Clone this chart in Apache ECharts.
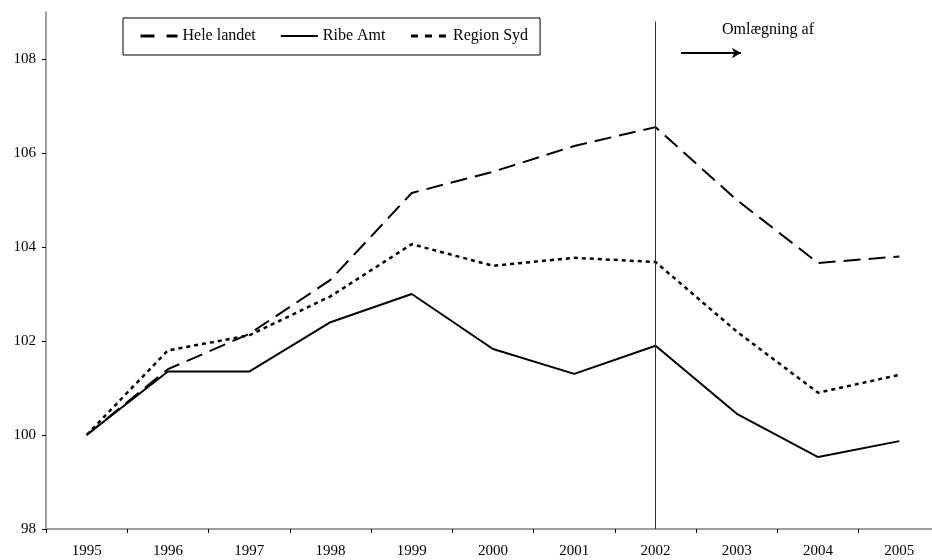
<!DOCTYPE html>
<html>
<head>
<meta charset="utf-8">
<script src="https://cdn.jsdelivr.net/npm/echarts@6/dist/echarts.min.js"></script>
<style>html,body{margin:0;padding:0;background:#fff;overflow:hidden;width:932px;height:560px}#c{width:940px;height:560px}</style>
</head>
<body>
<div id="c"></div>
<script>
const years = ['1995','1996','1997','1998','1999','2000','2001','2002','2003','2004','2005'];
const heleLandet = [100, 101.4, 102.15, 103.3, 105.15, 105.6, 106.15, 106.55, 105.0, 103.66, 103.8];
const ribeAmt = [100, 101.35, 101.35, 102.4, 103.0, 101.83, 101.3, 101.9, 100.45, 99.53, 99.87];
const regionSyd = [100, 101.8, 102.12, 102.95, 104.06, 103.6, 103.77, 103.68, 102.2, 100.9, 101.28];
const yTicks = [98, 100, 102, 104, 106, 108];
const markerYear = '2002';
const noteText = 'Omlægning af';

const font = 'Liberation Serif, Times New Roman, serif';
const chart = echarts.init(document.getElementById('c'));
const hiddenSym = { color: 'transparent', borderWidth: 0, opacity: 0 };
chart.setOption({
  animation: false,
  backgroundColor: '#fff',
  grid: { left: 46, top: 12, bottom: 31, right: 0 },
  legend: {
    left: 123, top: 18,
    padding: [10, 12, 11, 16],
    itemGap: 24,
    itemWidth: 37, itemHeight: 16,
    borderColor: '#000', borderWidth: 1,
    itemStyle: hiddenSym,
    textStyle: { fontFamily: font, fontSize: 16, color: '#000' },
    data: [
      { name: 'Hele landet', itemStyle: hiddenSym, lineStyle: { type: [14, 12], width: 3 } },
      { name: 'Ribe Amt', itemStyle: hiddenSym, lineStyle: { type: 'solid', width: 2 } },
      { name: 'Region Syd', itemStyle: hiddenSym, lineStyle: { type: [7, 7], width: 3 } }
    ]
  },
  xAxis: {
    type: 'category', data: years, boundaryGap: true,
    axisLine: { lineStyle: { color: '#808080', width: 1.5 } },
    axisTick: { show: true, length: 4, lineStyle: { color: '#000' } },
    axisLabel: { fontFamily: font, fontSize: 15, color: '#000', margin: 15 }
  },
  yAxis: {
    type: 'value', min: yTicks[0], max: 109, interval: 2,
    splitLine: { show: false },
    axisLine: { show: true, lineStyle: { color: '#808080', width: 1.5 } },
    axisTick: { show: true, length: 4, lineStyle: { color: '#000' }, customValues: yTicks },
    axisLabel: { fontFamily: font, fontSize: 15, color: '#000', margin: 10, customValues: yTicks }
  },
  graphic: [
    { type: 'text', left: 722, top: 22, style: { text: noteText, font: '16px ' + font, fill: '#000' } }
  ],
  series: [
    {
      name: 'Hele landet', type: 'line', data: heleLandet, symbol: 'none',
      lineStyle: { color: '#000', width: 2, type: [17, 8] },
      itemStyle: { color: '#000' },
      markLine: {
        silent: true, symbol: 'none', animation: false,
        label: { show: false },
        lineStyle: { color: '#333', width: 1, type: 'solid' },
        data: [
          [ { coord: [markerYear, 98] }, { coord: [markerYear, 108.8] } ]
        ]
      }
    },
    {
      name: 'Ribe Amt', type: 'line', data: ribeAmt, symbol: 'none',
      lineStyle: { color: '#000', width: 2, type: 'solid' },
      itemStyle: { color: '#000' },
      markLine: {
        silent: true, symbol: ['none', 'arrow'], symbolSize: [8, 9], animation: false,
        label: { show: false },
        lineStyle: { color: '#000', width: 2, type: 'solid' },
        data: [ [ { x: 681, y: 53 }, { x: 741, y: 53 } ] ]
      }
    },
    {
      name: 'Region Syd', type: 'line', data: regionSyd, symbol: 'none',
      lineStyle: { color: '#000', width: 2.5, type: [4, 4] },
      itemStyle: { color: '#000' }
    }
  ]
});
</script>
</body>
</html>
